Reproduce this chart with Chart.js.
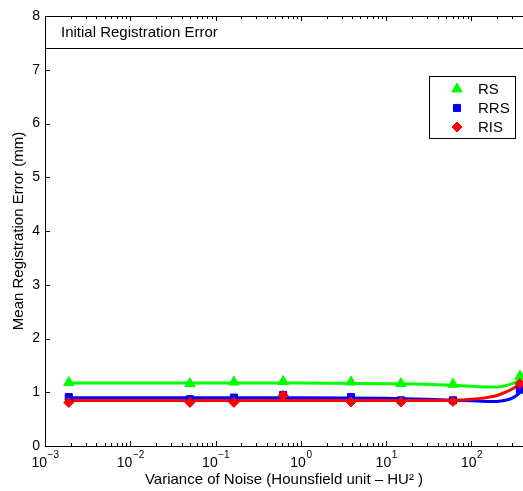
<!DOCTYPE html>
<html lang="en">
<head>
  <meta charset="UTF-8" />
  <title>Mean Registration Error vs Noise</title>
  <style>
    html, body { margin: 0; padding: 0; background: #ffffff; }
    #wrap { width: 523px; height: 491px; position: relative; }
  </style>
</head>
<body>
  <div id="wrap"><canvas id="chart" width="523" height="491"></canvas></div>

  <script src="https://cdn.jsdelivr.net/npm/chart.js"></script>
  <script>
    // measured points
    const noiseVar = [0.0019, 0.05, 0.164, 0.62, 3.87, 14.9, 60.7, 370];
    const rsErr  = [1.18, 1.16, 1.19, 1.2, 1.19, 1.16, 1.15, 1.3];
    const rrsErr = [0.91, 0.87, 0.9, 0.95, 0.91, 0.85, 0.85, 1.05];
    const risErr = [0.81, 0.81, 0.81, 0.94, 0.82, 0.82, 0.83, 1.16];

    // fitted curves
    const fitX   = [0.0019, 1, 10, 30, 60, 100, 150, 200, 250, 300, 350, 400];
    const rsFit  = [1.17, 1.17, 1.16, 1.15, 1.13, 1.11, 1.10, 1.10, 1.12, 1.16, 1.21, 1.28];
    const rrsFit = [0.9, 0.9, 0.89, 0.87, 0.85, 0.84, 0.83, 0.83, 0.85, 0.89, 0.96, 1.06];
    const risFit = [0.845, 0.845, 0.845, 0.845, 0.85, 0.87, 0.9, 0.94, 1.0, 1.06, 1.13, 1.21];

    const initialError = 7.4;
    const decades = [-3, -2, -1, 0, 1, 2];

    const FONT = '"Liberation Sans", Arial, Helvetica, sans-serif';
    const GREEN = '#00ff00', BLUE = '#0000ff', RED = '#ff0000';

    const toXY = (xs, ys) => xs.map((x, i) => ({ x: x, y: ys[i] }));

    // axes frame, inward ticks, log tick labels, reference line, legend
    const matlabLook = {
      id: 'matlabLook',
      afterDraw(chart) {
        const ctx = chart.ctx;
        const area = chart.chartArea;
        const xs = chart.scales.x, ys = chart.scales.y;
        ctx.save();
        ctx.strokeStyle = '#000';
        ctx.lineWidth = 1;

        // axes box (right side is off canvas)
        ctx.beginPath();
        ctx.moveTo(area.left + 0.5, area.top + 0.5);
        ctx.lineTo(area.left + 0.5, area.bottom + 0.5);
        ctx.lineTo(area.right + 5, area.bottom + 0.5);
        ctx.moveTo(area.left + 0.5, area.top + 0.5);
        ctx.lineTo(area.right + 5, area.top + 0.5);
        ctx.stroke();

        // y ticks
        ctx.beginPath();
        for (let v = 0; v <= 8; v++) {
          const py = Math.round(ys.getPixelForValue(v)) + 0.5;
          ctx.moveTo(area.left, py);
          ctx.lineTo(area.left + 5, py);
        }
        // x ticks, major + minor, top and bottom
        for (let d = -3; d <= 2; d++) {
          for (let m = 1; m <= 9; m++) {
            const v = m * Math.pow(10, d);
            if (v > xs.max) break;
            const px = Math.round(xs.getPixelForValue(v)) + 0.5;
            const len = m === 1 ? 5 : 3;
            ctx.moveTo(px, area.bottom);
            ctx.lineTo(px, area.bottom - len);
            ctx.moveTo(px, area.top);
            ctx.lineTo(px, area.top + len);
          }
        }
        ctx.stroke();

        // x tick labels 10^n
        ctx.fillStyle = '#000';
        ctx.textBaseline = 'alphabetic';
        ctx.textAlign = 'left';
        decades.forEach(d => {
          const px = xs.getPixelForValue(Math.pow(10, d));
          const exp = d < 0 ? '\u2212' + (-d) : String(d);
          ctx.font = '14px ' + FONT;
          const bw = ctx.measureText('10').width;
          ctx.font = '10px ' + FONT;
          const ew = ctx.measureText(exp).width;
          const x0 = px - (bw + ew) / 2;
          ctx.font = '14px ' + FONT;
          ctx.fillText('10', x0, 467);
          ctx.font = '10px ' + FONT;
          ctx.fillText(exp, x0 + bw + 0.5, 458);
        });

        // initial registration error line
        const ly = Math.round(ys.getPixelForValue(initialError)) + 0.5;
        ctx.beginPath();
        ctx.moveTo(area.left, ly);
        ctx.lineTo(area.right + 5, ly);
        ctx.stroke();
        ctx.font = '15px ' + FONT;
        ctx.textBaseline = 'middle';
        ctx.fillText('Initial Registration Error', 61, 33);

        // legend
        const lx = 429.5, ltop = 76.5, lw = 86, lh = 62;
        ctx.fillStyle = '#fff';
        ctx.fillRect(lx, ltop, lw, lh);
        ctx.strokeRect(lx, ltop, lw, lh);
        const items = [
          { label: 'RS', color: GREEN, style: 'triangle', r: 6 },
          { label: 'RRS', color: BLUE, style: 'rect', r: 5 },
          { label: 'RIS', color: RED, style: 'rectRot', r: 5 }
        ];
        items.forEach((it, i) => {
          const cy = 89 + i * 19;
          ctx.fillStyle = it.color;
          ctx.strokeStyle = it.color;
          Chart.helpers.drawPoint(ctx, { pointStyle: it.style, radius: it.r, borderWidth: 1 }, 457, cy);
          ctx.fillStyle = '#000';
          ctx.font = '15px ' + FONT;
          ctx.textBaseline = 'middle';
          ctx.fillText(it.label, 478, cy + 1);
        });
        ctx.restore();
      }
    };

    const markerSet = (label, data, color, style, r, order) => ({
      label: label,
      data: data,
      showLine: false,
      pointStyle: style,
      pointRadius: r,
      pointBackgroundColor: color,
      pointBorderColor: color,
      pointBorderWidth: 1,
      order: order
    });
    const curveSet = (label, data, color, order) => ({
      label: label,
      data: data,
      showLine: true,
      borderColor: color,
      borderWidth: 3,
      pointRadius: 0,
      cubicInterpolationMode: 'monotone',
      order: order
    });

    new Chart(document.getElementById('chart'), {
      type: 'scatter',
      data: {
        datasets: [
          markerSet('RIS', toXY(noiseVar, risErr), RED, 'rectRot', 5, 0),
          markerSet('RRS', toXY(noiseVar, rrsErr), BLUE, 'rect', 5, 1),
          markerSet('RS', toXY(noiseVar, rsErr), GREEN, 'triangle', 6, 2),
          curveSet('RIS fit', toXY(fitX, risFit), RED, 3),
          curveSet('RRS fit', toXY(fitX, rrsFit), BLUE, 4),
          curveSet('RS fit', toXY(fitX, rsFit), GREEN, 5)
        ]
      },
      options: {
        responsive: false,
        animation: false,
        layout: { autoPadding: false, padding: { top: 16, right: 0, left: 0, bottom: 0 } },
        plugins: {
          legend: { display: false },
          tooltip: { enabled: false }
        },
        scales: {
          x: {
            type: 'logarithmic',
            min: 0.001,
            max: 402,
            grid: { display: false },
            border: { display: false },
            ticks: { display: false },
            title: {
              display: true,
              text: 'Variance of Noise (Hounsfield unit \u2013 HU\u00b2 )',
              color: '#000',
              font: { family: FONT, size: 15 },
              padding: { top: 0, bottom: 2 }
            },
            afterFit(scale) { scale.height = 45; }
          },
          y: {
            min: 0,
            max: 8,
            grid: { display: false, drawTicks: false },
            border: { display: false },
            ticks: {
              stepSize: 1,
              color: '#000',
              padding: 5,
              font: { family: FONT, size: 14 }
            },
            title: {
              display: true,
              text: 'Mean Registration Error (mm)',
              color: '#000',
              font: { family: FONT, size: 15 },
              padding: { top: 10, bottom: 0 }
            },
            afterFit(scale) { scale.width = 45; }
          }
        }
      },
      plugins: [matlabLook]
    });
  </script>
</body>
</html>
